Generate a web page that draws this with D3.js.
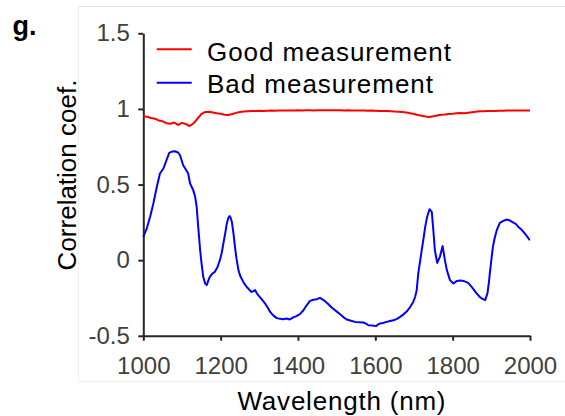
<!DOCTYPE html>
<html>
<head>
<meta charset="utf-8">
<script src="https://cdn.jsdelivr.net/npm/d3@7"></script>
<style>
  html, body { margin: 0; padding: 0; background: #ffffff; }
  svg { display: block; font-family: "Liberation Sans", Arial, Helvetica, sans-serif; }
</style>
</head>
<body>
<svg id="chart" width="565" height="416"></svg>
<script>
// Wavelength grid (nm) for the good measurement, 10 nm steps
const goodWavelength = d3.range(1000, 2001, 10);
const goodValues = [
  0.952, 0.948, 0.940, 0.935, 0.924, 0.918, 0.906, 0.902, 0.910, 0.894,
  0.908, 0.900, 0.887, 0.905, 0.935, 0.965, 0.980, 0.981, 0.977, 0.972,
  0.968, 0.962, 0.960, 0.966, 0.974, 0.980, 0.983, 0.985, 0.987, 0.986,
  0.988, 0.987, 0.988, 0.989, 0.988, 0.989, 0.990, 0.989, 0.990, 0.989,
  0.991, 0.990, 0.991, 0.991, 0.990, 0.992, 0.991, 0.992, 0.991, 0.992,
  0.992, 0.991, 0.990, 0.991, 0.990, 0.989, 0.990, 0.989, 0.988, 0.989,
  0.988, 0.987, 0.986, 0.986, 0.985, 0.983, 0.982, 0.980, 0.977, 0.972,
  0.966, 0.960, 0.955, 0.950, 0.947, 0.951, 0.956, 0.961, 0.963, 0.967,
  0.968, 0.971, 0.973, 0.972, 0.975, 0.978, 0.981, 0.984, 0.985, 0.986,
  0.987, 0.987, 0.988, 0.988, 0.989, 0.989, 0.989, 0.990, 0.990, 0.990,
  0.989
];

// Bad measurement, sampled more densely around the sharp features
const badWavelength = [
  1000, 1009, 1018, 1026, 1035, 1043, 1052, 1060, 1067, 1074, 1082, 1090, 1095,
  1103, 1110, 1116, 1121, 1129, 1134, 1138, 1142, 1147, 1151, 1155, 1160, 1164,
  1168, 1172, 1178, 1185, 1192, 1198, 1203, 1207, 1212, 1216, 1220, 1223, 1226,
  1229, 1233, 1237, 1241, 1246, 1250, 1254, 1260, 1267, 1274, 1280, 1285, 1289,
  1293, 1297, 1306, 1315, 1322, 1328, 1336, 1345, 1354, 1362, 1370, 1379, 1388,
  1396, 1405, 1414, 1422, 1431, 1440, 1448, 1457, 1465, 1470, 1478, 1487, 1498,
  1509, 1518, 1526, 1537, 1548, 1558, 1569, 1576, 1582, 1592, 1602, 1607, 1612,
  1620, 1629, 1638, 1647, 1655, 1664, 1672, 1681, 1690, 1698, 1703, 1707, 1711,
  1715, 1720, 1725, 1729, 1734, 1740, 1746, 1750, 1754, 1760, 1767, 1774, 1780,
  1785, 1793, 1802, 1811, 1820, 1828, 1840, 1849, 1856, 1862, 1869, 1875, 1884,
  1890, 1894, 1897, 1904, 1909, 1914, 1922, 1931, 1940, 1948, 1957, 1963, 1970,
  1977, 1983, 1990, 1998, 2000
];
const badValues = [
  0.154, 0.210, 0.290, 0.375, 0.485, 0.573, 0.606, 0.661, 0.710, 0.718, 0.720, 0.712, 0.694,
  0.628, 0.600, 0.573, 0.507, 0.463, 0.420, 0.352, 0.220, 0.066, -0.030, -0.110, -0.155, -0.165,
  -0.135, -0.110, -0.090, -0.077, -0.045, 0.000, 0.050, 0.110, 0.180, 0.243, 0.280, 0.292, 0.280,
  0.253, 0.180, 0.088, 0.010, -0.066, -0.100, -0.121, -0.150, -0.176, -0.195, -0.210, -0.205, -0.198,
  -0.215, -0.231, -0.258, -0.287, -0.315, -0.342, -0.365, -0.383, -0.388, -0.390, -0.386, -0.392, -0.378,
  -0.370, -0.357, -0.331, -0.300, -0.269, -0.262, -0.258, -0.249, -0.262, -0.271, -0.290, -0.313, -0.335,
  -0.357, -0.378, -0.392, -0.400, -0.408, -0.410, -0.412, -0.420, -0.430, -0.432, -0.436, -0.425, -0.419,
  -0.415, -0.408, -0.402, -0.397, -0.390, -0.375, -0.360, -0.340, -0.310, -0.276, -0.242, -0.198, -0.088,
  -0.020, 0.066, 0.150, 0.220, 0.286, 0.337, 0.319, 0.198, 0.066, -0.018, 0.022, 0.093, 0.000,
  -0.066, -0.132, -0.154, -0.137, -0.135, -0.137, -0.150, -0.176, -0.200, -0.220, -0.240, -0.253, -0.264,
  -0.220, -0.140, -0.066, 0.088, 0.150, 0.198, 0.247, 0.260, 0.269, 0.262, 0.249, 0.240, 0.220,
  0.205, 0.187, 0.165, 0.137, 0.135
];

const xTicks = [1000, 1200, 1400, 1600, 1800, 2000];
const yTicks = [-0.5, 0, 0.5, 1, 1.5];
const yTickLabels = ["-0.5", "0", "0.5", "1", "1.5"];
const seriesNames = ["Good measurement", "Bad measurement"];
const seriesColors = ["#ff0000", "#0000ff"];

const svg = d3.select("#chart");

// faint outer frame of the panel
svg.append("line").attr("x1", 78.5).attr("x2", 565).attr("y1", 6.5).attr("y2", 6.5)
  .attr("stroke", "#e3e3e3").attr("stroke-width", 1);
svg.append("line").attr("x1", 78.5).attr("x2", 78.5).attr("y1", 6.5).attr("y2", 381.5)
  .attr("stroke", "#f1f1f1").attr("stroke-width", 1);
svg.append("line").attr("x1", 78.5).attr("x2", 565).attr("y1", 381.5).attr("y2", 381.5)
  .attr("stroke", "#f1f1f1").attr("stroke-width", 1);

const x = d3.scaleLinear().domain([1000, 2000]).range([143.3, 530]);
const y = d3.scaleLinear().domain([-0.5, 1.5]).range([335.8, 33.3]);

const axisColor = "#262626";
const tickTextColor = "#404040";

// x axis
const gx = svg.append("g").attr("transform", `translate(0,${y(-0.5)})`)
  .call(d3.axisBottom(x).tickValues(xTicks).tickFormat(d3.format("d"))
    .tickSize(5).tickSizeOuter(0).tickPadding(16));
// y axis
const gy = svg.append("g").attr("transform", `translate(${x(1000)},0)`)
  .call(d3.axisLeft(y).tickValues(yTicks).tickFormat((d, i) => yTickLabels[i])
    .tickSize(5).tickSizeOuter(0).tickPadding(8.5));

[gx, gy].forEach(g => {
  g.select(".domain").attr("stroke", axisColor).attr("stroke-width", 2);
  g.selectAll(".tick line").attr("stroke", axisColor).attr("stroke-width", 2);
  g.selectAll(".tick text").attr("fill", tickTextColor)
    .style("font-size", "24px").style("font-family", '"Liberation Sans", Arial, sans-serif');
});

// data lines
const line = d3.line().x(d => x(d[0])).y(d => y(d[1]));
const goodData = goodWavelength.map((w, i) => [w, goodValues[i]]);
const badData = badWavelength.map((w, i) => [w, badValues[i]]);

svg.append("path").datum(goodData).attr("d", line)
  .attr("fill", "none").attr("stroke", seriesColors[0]).attr("stroke-width", 2)
  .attr("stroke-linejoin", "round");
svg.append("path").datum(badData).attr("d", line)
  .attr("fill", "none").attr("stroke", seriesColors[1]).attr("stroke-width", 2)
  .attr("stroke-linejoin", "round");

// legend
const legendRows = [
  { lineY: 49.3, textY: 61, width: 244 },
  { lineY: 82.7, textY: 92.6, width: 226 }
];
legendRows.forEach((r, i) => {
  svg.append("line").attr("x1", 156.7).attr("x2", 191.7)
    .attr("y1", r.lineY).attr("y2", r.lineY)
    .attr("stroke", seriesColors[i]).attr("stroke-width", 2);
  svg.append("text").attr("x", 207).attr("y", r.textY)
    .attr("fill", "#000").style("font-size", "26px")
    .attr("textLength", r.width).attr("lengthAdjust", "spacing")
    .text(seriesNames[i]);
});

// axis titles
svg.append("text").attr("x", 237.5).attr("y", 409.5)
  .attr("fill", "#000").style("font-size", "26px")
  .attr("textLength", 208).attr("lengthAdjust", "spacing")
  .text("Wavelength (nm)");
svg.append("text").attr("transform", "translate(76,175) rotate(-90)")
  .attr("text-anchor", "middle").attr("fill", "#000").style("font-size", "26px")
  .text("Correlation coef.");

// panel letter
svg.append("text").attr("x", 12.5).attr("y", 34.5)
  .attr("fill", "#000").style("font-size", "27px").style("font-weight", "bold")
  .text("g.");
</script>
</body>
</html>
